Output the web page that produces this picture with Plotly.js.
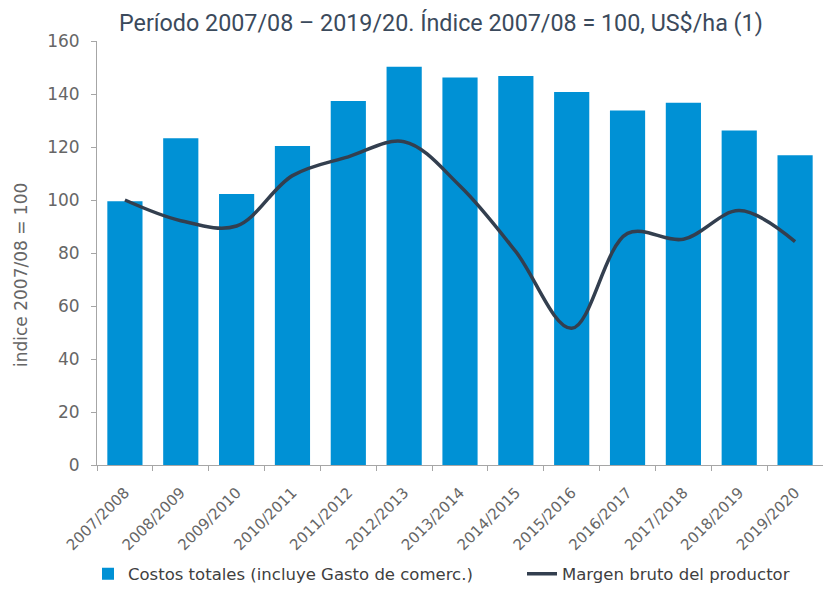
<!DOCTYPE html>
<html>
<head>
<meta charset="utf-8">
<script src="https://cdn.plot.ly/plotly-3.0.1.min.js"></script>
<style>html,body{margin:0;padding:0;background:#fff;}#chart{width:823px;height:589px;}</style>
</head>
<body>
<div id="chart"></div>
<script>
const campaigns = ["2007/2008","2008/2009","2009/2010","2010/2011","2011/2012","2012/2013","2013/2014","2014/2015","2015/2016","2016/2017","2017/2018","2018/2019","2019/2020"];
const costosTotales = [99.5, 123.3, 102.3, 120.4, 137.4, 150.3, 146.2, 146.8, 140.8, 133.8, 136.7, 126.2, 116.9];
const margenBruto = [100, 92.2, 90.2, 109.2, 116.3, 122, 105.3, 80.5, 51.6, 87.4, 85.2, 96, 84.3];
const yTicks = [0, 20, 40, 60, 80, 100, 120, 140, 160];

const axisGray = "#a6a6a6";
const labelGray = "#666666";

const traces = [
  {
    type: "bar",
    name: "Costos totales (incluye Gasto de comerc.)",
    x: campaigns,
    y: costosTotales,
    marker: {color: "#0091d5", line: {width: 0}},
    legend: "legend",
    hoverinfo: "x+y"
  },
  {
    type: "scatter",
    mode: "lines",
    name: "Margen bruto del productor",
    x: campaigns,
    y: margenBruto,
    line: {color: "#333f4f", width: 3.5, shape: "spline", smoothing: 1},
    legend: "legend2",
    hoverinfo: "x+y"
  }
];

const legendFont = {family: "DejaVu Sans, sans-serif", size: 16.5, color: "#404040"};

const layout = {
  width: 823,
  height: 589,
  margin: {l: 97, r: 0, t: 41, b: 124, pad: 0},
  paper_bgcolor: "#ffffff",
  plot_bgcolor: "#ffffff",
  bargap: 0.37,
  showlegend: true,
  legend: {
    orientation: "h",
    x: -0.0124, xanchor: "left",
    yref: "container",
    y: 0.0255, yanchor: "middle",
    font: legendFont,
    bgcolor: "rgba(0,0,0,0)",
    borderwidth: 0
  },
  legend2: {
    orientation: "h",
    x: 0.5854, xanchor: "left",
    yref: "container",
    y: 0.0255, yanchor: "middle",
    font: legendFont,
    bgcolor: "rgba(0,0,0,0)",
    borderwidth: 0
  },
  annotations: [
    {
      text: "Período 2007/08 – 2019/20. Índice 2007/08 = 100, US$/ha (1)",
      xref: "paper", yref: "paper",
      x: 0.474, y: 1.0, yshift: 18,
      xanchor: "center", yanchor: "middle",
      showarrow: false,
      font: {family: "Roboto, sans-serif", size: 23.3, color: "#3b4a5c"}
    },
    {
      text: "indice 2007/08 = 100",
      xref: "paper", yref: "paper",
      x: -0.1047, y: 0.448,
      xanchor: "center", yanchor: "middle",
      textangle: -90,
      showarrow: false,
      font: {family: "DejaVu Sans, sans-serif", size: 17, color: labelGray}
    }
  ],
  xaxis: {
    type: "category",
    tickangle: -45,
    tickfont: {family: "DejaVu Sans, sans-serif", size: 15, color: labelGray},
    ticks: "outside",
    ticklen: 5,
    tickcolor: axisGray,
    tickson: "boundaries",
    ticklabelstandoff: 12,
    showline: true,
    linecolor: axisGray,
    linewidth: 1,
    showgrid: false,
    zeroline: false,
    automargin: false,
    range: [-0.5, 12.5]
  },
  yaxis: {
    range: [0, 160],
    tickvals: yTicks,
    ticktext: yTicks.map(String),
    tickfont: {family: "DejaVu Sans, sans-serif", size: 17, color: labelGray},
    ticks: "outside",
    ticklen: 5,
    tickcolor: axisGray,
    ticklabelstandoff: 8,
    showline: true,
    linecolor: axisGray,
    linewidth: 1,
    showgrid: false,
    zeroline: false,
    automargin: false
  }
};

Plotly.newPlot("chart", traces, layout, {displayModeBar: false, staticPlot: true});
</script>
</body>
</html>
